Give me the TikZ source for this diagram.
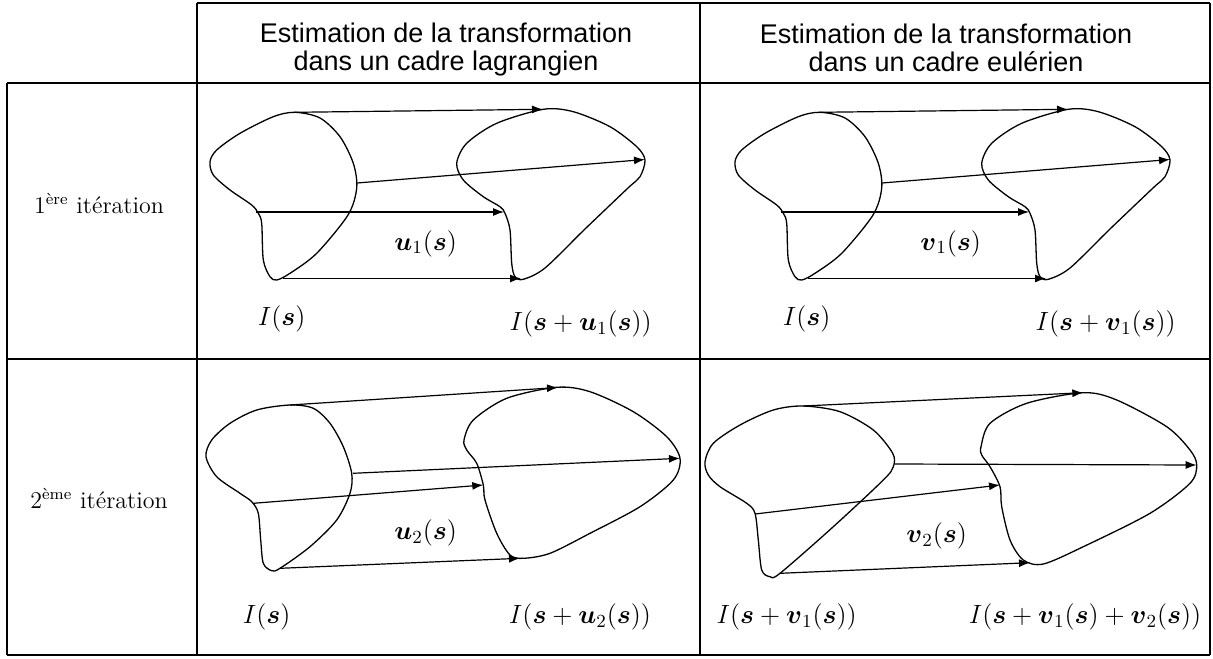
\RequirePackage{fix-cm}
\documentclass[tikz,border=0pt]{standalone}
\usepackage{amsmath,amssymb}
\usepackage{fontspec}
\newfontfamily\entete{Liberation Sans}
\usetikzlibrary{arrows.meta}
\newcommand{\bfs}{\boldsymbol{s}}
\begin{document}
\begin{tikzpicture}[x=0.5pt, y=-0.5pt,
  grille/.style={line width=0.9pt},
  forme/.style={line width=0.65pt},
  vec/.style={line width=0.6pt, -{Latex[length=5.5pt,width=4pt]}},
  titre/.style={font={\entete\fontsize{13.5}{14}\selectfont}, align=center},
  rang/.style={font={\fontsize{12}{14}\selectfont}, anchor=base},
  lab/.style={font={\fontsize{13.2}{15}\selectfont}, anchor=base, inner sep=0pt}]
\useasboundingbox (0,0) rectangle (1213,658);
% Table
\draw[grille] (197,3) -- (1210,3);
\draw[grille] (7,83) -- (1210,83);
\draw[grille] (7,359) -- (1210,359);
\draw[grille] (7,655) -- (1210,655);
\draw[grille] (7,83) -- (7,655);
\draw[grille] (197,3) -- (197,655);
\draw[grille] (700,3) -- (700,655);
\draw[grille] (1210,3) -- (1210,655);
% Column titles
\node[titre] (tlag) at (446,50) {Estimation de la transformation\\dans un cadre lagrangien};
\node[titre] (teul) at (946,48) {Estimation de la transformation\\dans un cadre eulérien};
% Row titles
\node[rang] (it1) at (99,213) {1\textsuperscript{ère} itération};
\node[rang] (it2) at (99,508) {2\textsuperscript{ème} itération};
% First iteration, same drawing in both columns
\foreach \dx/\k in {0/u,525/v}{
  \begin{scope}[shift={(\dx,0)}]
  % I(s)
  \draw[forme] plot[smooth cycle] coordinates {(210,161.7) (216.7,150) (240,133.3) (273.3,116.7) (295,112.3) (320,118) (340,136.7) (353.3,163.3) (356.7,188) (348,215) (316.7,253.3) (290,273.3) (276.7,280) (270,276.7) (263.3,260) (261.7,223.3) (258.3,213.3) (251.7,205) (230,190) (213.3,175)};
  % deformed image
  \draw[forme] plot[smooth cycle] coordinates {(456.7,163.3) (466.7,143.3) (496.7,123.3) (543.3,109.3) (573.3,111.7) (610,126.7) (636.7,146.7) (645,160) (640,176.7) (628,188) (585,229) (545,268) (523.3,279.3) (515,276.7) (511.7,263.3) (510,230) (505,213.3) (500,206.7) (483.3,196.7) (463.3,180)};
  % displacements
  \coordinate (a1\k) at (295,112.3);  \coordinate (b1\k) at (543,109.3);
  \coordinate (a2\k) at (357,183);    \coordinate (b2\k) at (645,159.5);
  \coordinate (a3\k) at (256,212);    \coordinate (b3\k) at (504,212);
  \coordinate (a4\k) at (283,278.5);  \coordinate (b4\k) at (521,278.5);
  \draw[vec] (a1\k) -- (b1\k);
  \draw[vec] (a2\k) -- (b2\k);
  \draw[vec] (a3\k) -- (b3\k);
  \draw[vec] (a4\k) -- (b4\k);
  \node[lab] (dep1\k) at (425.7,250) {$\boldsymbol{\k}_1(\bfs)$};
  \node[lab] (src1\k) at (281.7,325.3) {$I(\bfs)$};
  \node[lab] (dst1\k) at (580.7,330.8) {$I(\bfs+\boldsymbol{\k}_1(\bfs))$};
  \end{scope}
}
% Second iteration, lagrangian
\draw[forme] plot[smooth cycle] coordinates {(206,456.7) (211.7,440) (230,423.3) (256.7,410) (290,405) (313.3,408.3) (330,423.3) (343.3,446.7) (351.7,473.3) (350,493.3) (336.7,520) (310,546.7) (280,568.3) (271.7,570.7) (263.3,563.3) (260.7,540) (258.3,513.3) (251.7,501.7) (240,493.3) (216.7,476.7)};
\draw[forme] plot[smooth cycle] coordinates {(464,440) (473.3,420) (506.7,398.3) (556.7,387.3) (590,391.7) (633.3,411.7) (666.7,436.7) (680,458.3) (673.3,480) (640,506.7) (590,533.3) (550,553.3) (523.3,558.3) (510,555) (496.7,533.3) (485,500) (483.3,485) (476.7,463.3) (466.7,450)};
\coordinate (c1) at (290,405);     \coordinate (d1) at (558,387.5);
\coordinate (c2) at (353,473.3);   \coordinate (d2) at (680,458.3);
\coordinate (c3) at (253.3,503.3); \coordinate (d3) at (483.3,485);
\coordinate (c4) at (280,568.3);   \coordinate (d4) at (520,558.3);
\draw[vec] (c1) -- (d1);
\draw[vec] (c2) -- (d2);
\draw[vec] (c3) -- (d3);
\draw[vec] (c4) -- (d4);
\node[lab] (dep2u) at (425.7,539.3) {$\boldsymbol{u}_2(\bfs)$};
\node[lab] (src2u) at (266.7,623.7) {$I(\bfs)$};
\node[lab] (dst2u) at (580,623.7) {$I(\bfs+\boldsymbol{u}_2(\bfs))$};
% Second iteration, eulerian
\draw[forme] plot[smooth cycle] coordinates {(705,461.7) (713.3,443.3) (740,425) (773.3,410) (803.3,406) (840,411.7) (873.3,430) (892.7,453.3) (893.3,466.7) (883.3,480) (833.3,526.7) (780,573.3) (770,576.7) (761.7,570) (758.3,540) (755,513.3) (746.7,503.3) (720,486.7) (708.3,475)};
\draw[forme] plot[smooth cycle] coordinates {(981,446.7) (990,423.3) (1026.7,403.3) (1083.3,392.7) (1116.7,400) (1166.7,426.7) (1190,450) (1196.7,465) (1190,483.3) (1150,513.3) (1083.3,546.7) (1043.3,564) (1023.3,560) (1010,540) (1001.7,506.7) (1000,486.7) (990,466.7) (981.7,455)};
\coordinate (e1) at (803.3,406);   \coordinate (f1) at (1083.3,392.7);
\coordinate (e2) at (895,464);     \coordinate (f2) at (1196.7,465);
\coordinate (e3) at (755,514);     \coordinate (f3) at (1000,485);
\coordinate (e4) at (780,573.3);   \coordinate (f4) at (1030,562.7);
\draw[vec] (e1) -- (f1);
\draw[vec] (e2) -- (f2);
\draw[vec] (e3) -- (f3);
\draw[vec] (e4) -- (f4);
\node[lab] (dep2v) at (936.7,542.3) {$\boldsymbol{v}_2(\bfs)$};
\node[lab] (src2v) at (786.7,623.7) {$I(\bfs+\boldsymbol{v}_1(\bfs))$};
\node[lab] (dst2v) at (1085,623.7) {$I(\bfs+\boldsymbol{v}_1(\bfs)+\boldsymbol{v}_2(\bfs))$};
\end{tikzpicture}
\end{document}
